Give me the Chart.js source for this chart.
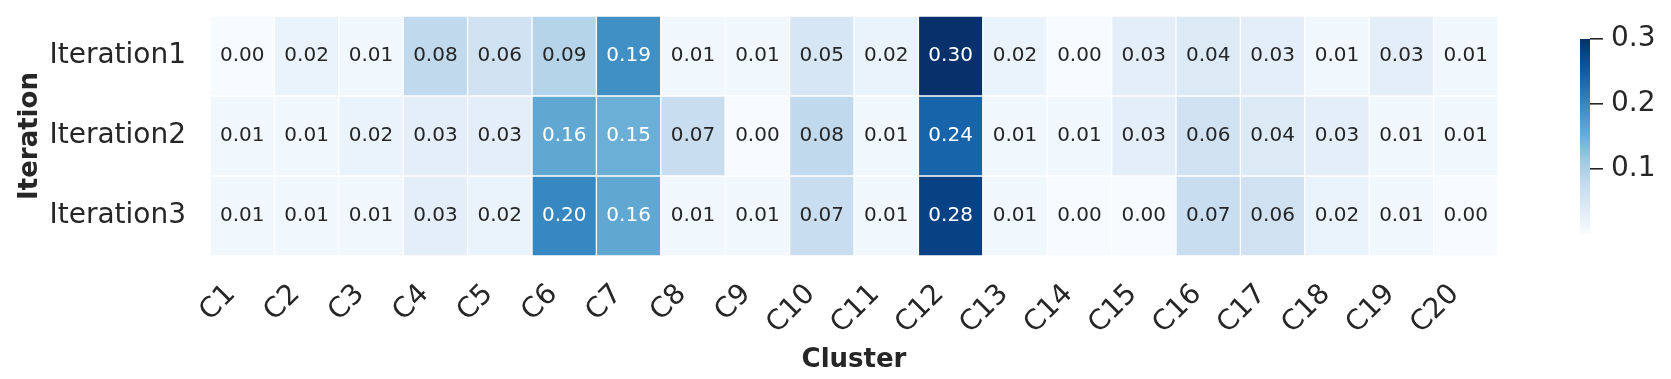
<!DOCTYPE html>
<html>
<head>
<meta charset="utf-8">
<script src="https://cdn.jsdelivr.net/npm/chart.js"></script>
<style>
  html, body { margin: 0; padding: 0; background: #fff; }
  #wrap { position: relative; width: 1671px; height: 379px; }
  #heat { position: absolute; left: 0; top: 0; }
  #cbar { position: absolute; left: 1570px; top: 0; }
</style>
</head>
<body>
<div id="wrap">
  <canvas id="heat" width="1671" height="379"></canvas>
  <canvas id="cbar" width="101" height="379"></canvas>
</div>
<script>
// Data
const clusters = ['C1', 'C2', 'C3', 'C4', 'C5', 'C6', 'C7', 'C8', 'C9', 'C10',
  'C11', 'C12', 'C13', 'C14', 'C15', 'C16', 'C17', 'C18', 'C19', 'C20'];
const iterations = ['Iteration1', 'Iteration2', 'Iteration3'];
const iteration1 = [0.00, 0.02, 0.01, 0.08, 0.06, 0.09, 0.19, 0.01, 0.01, 0.05,
  0.02, 0.30, 0.02, 0.00, 0.03, 0.04, 0.03, 0.01, 0.03, 0.01];
const iteration2 = [0.01, 0.01, 0.02, 0.03, 0.03, 0.16, 0.15, 0.07, 0.00, 0.08,
  0.01, 0.24, 0.01, 0.01, 0.03, 0.06, 0.04, 0.03, 0.01, 0.01];
const iteration3 = [0.01, 0.01, 0.01, 0.03, 0.02, 0.20, 0.16, 0.01, 0.01, 0.07,
  0.01, 0.28, 0.01, 0.00, 0.00, 0.07, 0.06, 0.02, 0.01, 0.00];
const colorbarTicks = [0.1, 0.2, 0.3];
const vmin = 0.0;
const vmax = 0.3;

const rows = [iteration1, iteration2, iteration3];
const FONT = "'DejaVu Sans', sans-serif";
const TEXT = '#262626';

// matplotlib "Blues"
const blues = ['#f7fbff', '#deebf7', '#c6dbef', '#9ecae1', '#6baed6',
  '#4292c6', '#2171b5', '#08519c', '#08306b'];
const hexToRgb = h => [1, 3, 5].map(i => parseInt(h.substr(i, 2), 16));

function bluesRgb(v) {
  let t = (v - vmin) / (vmax - vmin);
  t = Math.max(0, Math.min(1, t)) * (blues.length - 1);
  const i = Math.min(Math.floor(t), blues.length - 2);
  const f = t - i;
  const a = hexToRgb(blues[i]), b = hexToRgb(blues[i + 1]);
  return a.map((c, k) => Math.round(c + (b[k] - c) * f));
}
const rgbStr = c => `rgb(${c[0]},${c[1]},${c[2]})`;

function luminance(c) {
  const lin = c.map(x => {
    x /= 255;
    return x <= 0.03928 ? x / 12.92 : Math.pow((x + 0.055) / 1.055, 2.4);
  });
  return 0.2126 * lin[0] + 0.7152 * lin[1] + 0.0722 * lin[2];
}

// Cell annotations
const annotate = {
  id: 'annotate',
  afterDatasetsDraw(chart) {
    const ctx = chart.ctx;
    ctx.save();
    ctx.font = `20px ${FONT}`;
    ctx.textAlign = 'center';
    ctx.textBaseline = 'middle';
    rows.forEach((vals, di) => {
      chart.getDatasetMeta(di).data.forEach((bar, j) => {
        const v = vals[j];
        ctx.fillStyle = luminance(bluesRgb(v)) < 0.408 ? '#ffffff' : TEXT;
        ctx.fillText(v.toFixed(2), bar.x, (bar.y + bar.base) / 2);
      });
    });
    ctx.restore();
  }
};

new Chart(document.getElementById('heat'), {
  type: 'bar',
  data: {
    labels: clusters,
    datasets: rows.map((vals, i) => ({
      label: iterations[i],
      data: vals.map(() => 1),
      backgroundColor: vals.map(v => rgbStr(bluesRgb(v))),
      borderColor: '#ffffff',
      borderWidth: 1,
      borderSkipped: false,
      barPercentage: 1,
      categoryPercentage: 1
    }))
  },
  options: {
    responsive: false,
    animation: false,
    devicePixelRatio: 1,
    layout: { padding: { top: 16, right: 173, left: 0, bottom: 0 } },
    plugins: { legend: { display: false }, tooltip: { enabled: false } },
    scales: {
      x: {
        stacked: true,
        grid: { display: false, drawTicks: false },
        border: { display: false },
        ticks: {
          autoSkip: false, minRotation: 45, maxRotation: 45, padding: 22, labelOffset: -11,
          color: TEXT, font: { family: FONT, size: 28 }
        },
        title: {
          display: true, text: 'Cluster', color: TEXT,
          font: { family: FONT, size: 26, weight: 'bold' }, padding: { bottom: 3 }
        },
        afterFit: s => { s.height = 123; s.paddingLeft = 0; s.paddingRight = 0; }
      },
      y: {
        stacked: true,
        min: 0, max: 3, reverse: true,
        grid: { display: false, drawTicks: false },
        border: { display: false },
        afterBuildTicks: s => { s.ticks = [0.5, 1.5, 2.5].map(v => ({ value: v })); },
        ticks: {
          padding: 24, color: TEXT, font: { family: FONT, size: 28 },
          callback: v => iterations[Math.floor(v)]
        },
        title: {
          display: true, text: 'Iteration', color: TEXT,
          font: { family: FONT, size: 26, weight: 'bold' }, padding: { top: 15 }
        },
        afterFit: s => { s.width = 210; s.paddingTop = 0; s.paddingBottom = 0; }
      }
    }
  },
  plugins: [annotate]
});

// Colorbar
new Chart(document.getElementById('cbar'), {
  type: 'bar',
  data: {
    labels: [''],
    datasets: [{
      data: [vmax],
      backgroundColor: (c) => {
        const a = c.chart.chartArea;
        if (!a) return blues[4];
        const g = c.chart.ctx.createLinearGradient(0, a.bottom, 0, a.top);
        blues.forEach((col, i) => g.addColorStop(i / (blues.length - 1), col));
        return g;
      },
      borderWidth: 0,
      barPercentage: 1,
      categoryPercentage: 1
    }]
  },
  options: {
    responsive: false,
    animation: false,
    devicePixelRatio: 1,
    layout: { padding: { top: 39, bottom: 146, left: 10, right: 0 } },
    plugins: { legend: { display: false }, tooltip: { enabled: false } },
    scales: {
      x: { display: false },
      y: {
        position: 'right',
        min: vmin, max: vmax,
        grid: { drawOnChartArea: false, drawTicks: true, tickLength: 13, color: TEXT, lineWidth: 1.6 },
        border: { display: false },
        afterBuildTicks: s => { s.ticks = colorbarTicks.map(v => ({ value: v })); },
        ticks: {
          padding: 8, color: TEXT, font: { family: FONT, size: 28 },
          callback: v => v.toFixed(1)
        },
        afterFit: s => { s.width = 81; }
      }
    }
  }
});
</script>
</body>
</html>
